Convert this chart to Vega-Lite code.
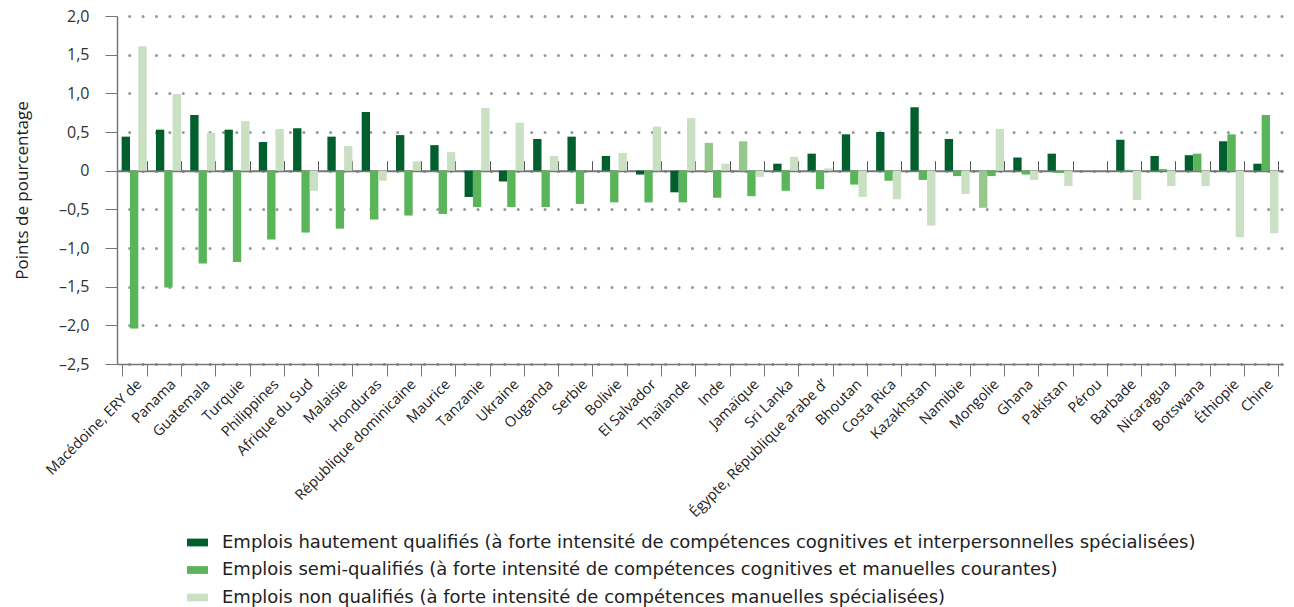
{
  "$schema": "https://vega.github.io/schema/vega-lite/v6.json",
  "width": 1166,
  "height": 348,
  "autosize": {"type": "none"},
  "padding": {"left": 117, "top": 16, "right": 11, "bottom": 243},
  "background": "white",
  "config": {
    "view": {"stroke": null},
    "font": "Open Sans",
    "axis": {"labelFont": "Open Sans", "titleFont": "Open Sans"},
    "legend": {"labelFont": "DejaVu Sans"}
  },
  "data": {
    "values": [
      {"pays": "Macédoine, ERY de", "emploi": "h", "valeur": 0.44},
      {"pays": "Macédoine, ERY de", "emploi": "s", "valeur": -2.04},
      {"pays": "Macédoine, ERY de", "emploi": "n", "valeur": 1.61},
      {"pays": "Panama", "emploi": "h", "valeur": 0.53},
      {"pays": "Panama", "emploi": "s", "valeur": -1.51},
      {"pays": "Panama", "emploi": "n", "valeur": 0.99},
      {"pays": "Guatemala", "emploi": "h", "valeur": 0.72},
      {"pays": "Guatemala", "emploi": "s", "valeur": -1.2},
      {"pays": "Guatemala", "emploi": "n", "valeur": 0.49},
      {"pays": "Turquie", "emploi": "h", "valeur": 0.53},
      {"pays": "Turquie", "emploi": "s", "valeur": -1.18},
      {"pays": "Turquie", "emploi": "n", "valeur": 0.64},
      {"pays": "Philippines", "emploi": "h", "valeur": 0.37},
      {"pays": "Philippines", "emploi": "s", "valeur": -0.89},
      {"pays": "Philippines", "emploi": "n", "valeur": 0.54},
      {"pays": "Afrique du Sud", "emploi": "h", "valeur": 0.55},
      {"pays": "Afrique du Sud", "emploi": "s", "valeur": -0.8},
      {"pays": "Afrique du Sud", "emploi": "n", "valeur": -0.26},
      {"pays": "Malaisie", "emploi": "h", "valeur": 0.44},
      {"pays": "Malaisie", "emploi": "s", "valeur": -0.75},
      {"pays": "Malaisie", "emploi": "n", "valeur": 0.32},
      {"pays": "Honduras", "emploi": "h", "valeur": 0.76},
      {"pays": "Honduras", "emploi": "s", "valeur": -0.63},
      {"pays": "Honduras", "emploi": "n", "valeur": -0.13},
      {"pays": "République dominicaine", "emploi": "h", "valeur": 0.46},
      {"pays": "République dominicaine", "emploi": "s", "valeur": -0.58},
      {"pays": "République dominicaine", "emploi": "n", "valeur": 0.12},
      {"pays": "Maurice", "emploi": "h", "valeur": 0.33},
      {"pays": "Maurice", "emploi": "s", "valeur": -0.56},
      {"pays": "Maurice", "emploi": "n", "valeur": 0.24},
      {"pays": "Tanzanie", "emploi": "h", "valeur": -0.34},
      {"pays": "Tanzanie", "emploi": "s", "valeur": -0.47},
      {"pays": "Tanzanie", "emploi": "n", "valeur": 0.81},
      {"pays": "Ukraine", "emploi": "h", "valeur": -0.14},
      {"pays": "Ukraine", "emploi": "s", "valeur": -0.47},
      {"pays": "Ukraine", "emploi": "n", "valeur": 0.62},
      {"pays": "Ouganda", "emploi": "h", "valeur": 0.41},
      {"pays": "Ouganda", "emploi": "s", "valeur": -0.47},
      {"pays": "Ouganda", "emploi": "n", "valeur": 0.19},
      {"pays": "Serbie", "emploi": "h", "valeur": 0.44},
      {"pays": "Serbie", "emploi": "s", "valeur": -0.43},
      {"pays": "Serbie", "emploi": "n", "valeur": 0},
      {"pays": "Bolivie", "emploi": "h", "valeur": 0.19},
      {"pays": "Bolivie", "emploi": "s", "valeur": -0.41},
      {"pays": "Bolivie", "emploi": "n", "valeur": 0.23},
      {"pays": "El Salvador", "emploi": "h", "valeur": -0.05},
      {"pays": "El Salvador", "emploi": "s", "valeur": -0.41},
      {"pays": "El Salvador", "emploi": "n", "valeur": 0.57},
      {"pays": "Thaïlande", "emploi": "h", "valeur": -0.28},
      {"pays": "Thaïlande", "emploi": "s", "valeur": -0.41},
      {"pays": "Thaïlande", "emploi": "n", "valeur": 0.68},
      {"pays": "Inde", "emploi": "h", "valeur": 0.36},
      {"pays": "Inde", "emploi": "s", "valeur": -0.35},
      {"pays": "Inde", "emploi": "n", "valeur": 0.09},
      {"pays": "Jamaïque", "emploi": "h", "valeur": 0.38},
      {"pays": "Jamaïque", "emploi": "s", "valeur": -0.33},
      {"pays": "Jamaïque", "emploi": "n", "valeur": -0.08},
      {"pays": "Sri Lanka", "emploi": "h", "valeur": 0.09},
      {"pays": "Sri Lanka", "emploi": "s", "valeur": -0.26},
      {"pays": "Sri Lanka", "emploi": "n", "valeur": 0.18},
      {"pays": "Égypte, République arabe d’", "emploi": "h", "valeur": 0.22},
      {"pays": "Égypte, République arabe d’", "emploi": "s", "valeur": -0.24},
      {"pays": "Égypte, République arabe d’", "emploi": "n", "valeur": 0.03},
      {"pays": "Bhoutan", "emploi": "h", "valeur": 0.47},
      {"pays": "Bhoutan", "emploi": "s", "valeur": -0.18},
      {"pays": "Bhoutan", "emploi": "n", "valeur": -0.34},
      {"pays": "Costa Rica", "emploi": "h", "valeur": 0.5},
      {"pays": "Costa Rica", "emploi": "s", "valeur": -0.13},
      {"pays": "Costa Rica", "emploi": "n", "valeur": -0.37},
      {"pays": "Kazakhstan", "emploi": "h", "valeur": 0.82},
      {"pays": "Kazakhstan", "emploi": "s", "valeur": -0.12},
      {"pays": "Kazakhstan", "emploi": "n", "valeur": -0.71},
      {"pays": "Namibie", "emploi": "h", "valeur": 0.41},
      {"pays": "Namibie", "emploi": "s", "valeur": -0.07},
      {"pays": "Namibie", "emploi": "n", "valeur": -0.3},
      {"pays": "Mongolie", "emploi": "h", "valeur": -0.48},
      {"pays": "Mongolie", "emploi": "s", "valeur": -0.07},
      {"pays": "Mongolie", "emploi": "n", "valeur": 0.54},
      {"pays": "Ghana", "emploi": "h", "valeur": 0.17},
      {"pays": "Ghana", "emploi": "s", "valeur": -0.05},
      {"pays": "Ghana", "emploi": "n", "valeur": -0.12},
      {"pays": "Pakistan", "emploi": "h", "valeur": 0.22},
      {"pays": "Pakistan", "emploi": "s", "valeur": -0.03},
      {"pays": "Pakistan", "emploi": "n", "valeur": -0.2},
      {"pays": "Pérou", "emploi": "h", "valeur": 0},
      {"pays": "Pérou", "emploi": "s", "valeur": 0},
      {"pays": "Pérou", "emploi": "n", "valeur": 0},
      {"pays": "Barbade", "emploi": "h", "valeur": 0.4},
      {"pays": "Barbade", "emploi": "s", "valeur": 0.01},
      {"pays": "Barbade", "emploi": "n", "valeur": -0.38},
      {"pays": "Nicaragua", "emploi": "h", "valeur": 0.19},
      {"pays": "Nicaragua", "emploi": "s", "valeur": 0.02},
      {"pays": "Nicaragua", "emploi": "n", "valeur": -0.2},
      {"pays": "Botswana", "emploi": "h", "valeur": 0.2},
      {"pays": "Botswana", "emploi": "s", "valeur": 0.22},
      {"pays": "Botswana", "emploi": "n", "valeur": -0.2},
      {"pays": "Éthiopie", "emploi": "h", "valeur": 0.38},
      {"pays": "Éthiopie", "emploi": "s", "valeur": 0.47},
      {"pays": "Éthiopie", "emploi": "n", "valeur": -0.86},
      {"pays": "Chine", "emploi": "h", "valeur": 0.09},
      {"pays": "Chine", "emploi": "s", "valeur": 0.72},
      {"pays": "Chine", "emploi": "n", "valeur": -0.81}
    ]
  },
  "resolve": {"axis": {"x": "independent"}},
  "layer": [
    {
      "mark": {"type": "bar"},
      "encoding": {
        "x": {
          "field": "pays",
          "type": "nominal",
          "sort": null,
          "scale": {"paddingInner": 0.27, "paddingOuter": 0.135},
          "axis": {
            "orient": "bottom",
            "title": null,
            "labelAngle": -45,
            "labelAlign": "right",
            "labelBaseline": "top",
            "tickBand": "extent",
            "tickSize": 12,
            "labelPadding": 1,
            "domainColor": "#777777",
            "domainWidth": 1.5,
            "tickColor": "#777777",
            "labelFontSize": 14.5,
            "labelColor": "#222222",
            "labelLimit": 400,
            "grid": false
          }
        },
        "xOffset": {
          "field": "emploi",
          "type": "nominal",
          "sort": ["h", "s", "n"],
          "scale": {"paddingInner": 0, "paddingOuter": 0}
        },
        "y": {
          "field": "valeur",
          "type": "quantitative",
          "scale": {"domain": [-2.5, 2], "nice": false, "zero": false},
          "axis": {
            "title": "Points de pourcentage",
            "titleFontSize": 17,
            "titleFontWeight": "normal",
            "titleColor": "#222222",
            "titleX": -95,
            "titleY": 174,
            "titleAngle": -90,
            "titleAlign": "center",
            "titleBaseline": "middle",
            "values": [-2.5, -2, -1.5, -1, -0.5, 0, 0.5, 1, 1.5, 2],
            "labelExpr": "datum.value === 0 ? '0' : (datum.value < 0 ? '–' : '') + replace(format(abs(datum.value), '.1f'), '.', ',')",
            "labelFontSize": 16,
            "labelColor": "#333333",
            "labelPadding": 16,
            "tickSize": 12,
            "tickColor": "#777777",
            "domainColor": "#777777",
            "domainWidth": 1.5,
            "grid": true,
            "gridColor": "#9a9a9a",
            "gridDash": [0.1, 13.3],
            "gridDashOffset": 1.3,
            "gridCap": "round",
            "gridWidth": 3
          }
        },
        "color": {
          "field": "emploi",
          "type": "nominal",
          "condition": {
            "test": "datum.emploi === 'h' && indexof(['Inde', 'Jamaïque', 'Mongolie'], datum.pays) >= 0",
            "value": "#95c88a"
          },
          "scale": {
            "domain": ["h", "s", "n"],
            "range": ["#005f2d", "#5ab45a", "#c9e0c2"]
          },
          "legend": {
            "orient": "none",
            "legendX": 70,
            "legendY": 516,
            "direction": "vertical",
            "title": null,
            "symbolType": "M-1,-0.37L1,-0.37L1,0.37L-1,0.37Z",
            "symbolSize": 441,
            "symbolStrokeWidth": 0,
            "labelFontSize": 18,
            "labelColor": "#222222",
            "labelOffset": 14,
            "labelLimit": 2000,
            "rowPadding": 7.5,
            "labelExpr": "datum.value === 'h' ? 'Emplois hautement qualifiés (à forte intensité de compétences cognitives et interpersonnelles spécialisées)' : datum.value === 's' ? 'Emplois semi-qualifiés (à forte intensité de compétences cognitives et manuelles courantes)' : 'Emplois non qualifiés (à forte intensité de compétences manuelles spécialisées)'"
          }
        }
      }
    },
    {
      "mark": {"type": "point", "opacity": 0},
      "encoding": {
        "x": {
          "field": "pays",
          "type": "nominal",
          "sort": null,
          "axis": {
            "orient": "top",
            "offset": -154.7,
            "labels": false,
            "title": null,
            "tickBand": "extent",
            "tickSize": 10,
            "tickColor": "#555555",
            "domainColor": "#777777",
            "domainWidth": 2,
            "grid": false
          }
        }
      }
    }
  ]
}
